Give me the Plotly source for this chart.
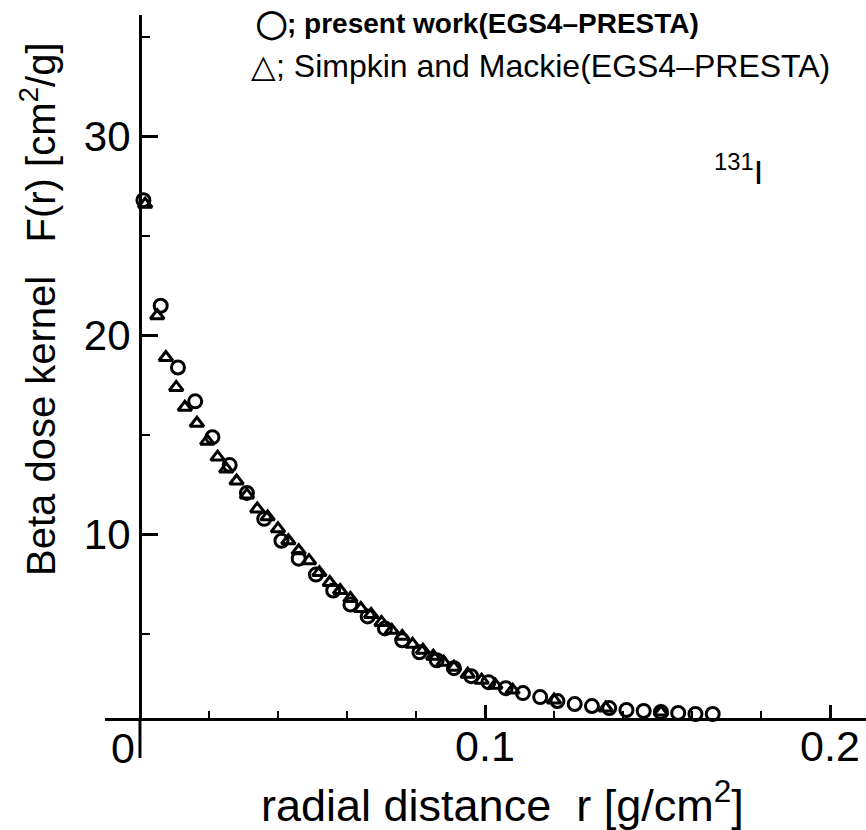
import plotly.graph_objects as go

# ---- data ----
r_present = [0.001, 0.006, 0.011, 0.016, 0.021, 0.026, 0.031, 0.036, 0.041, 0.046,
             0.051, 0.056, 0.061, 0.066, 0.071, 0.076, 0.081, 0.086, 0.091, 0.096,
             0.101, 0.106, 0.111, 0.116, 0.121, 0.126, 0.131, 0.136, 0.141, 0.146,
             0.151, 0.156, 0.161, 0.166]
F_present = [26.8, 21.5, 18.4, 16.7, 14.9, 13.5, 12.1, 10.8, 9.7, 8.8,
             8.0, 7.2, 6.5, 5.9, 5.3, 4.7, 4.1, 3.7, 3.3, 2.9,
             2.6, 2.3, 2.05, 1.85, 1.65, 1.5, 1.4, 1.3, 1.2, 1.15,
             1.1, 1.05, 1.0, 1.0]

r_simpkin = [0.0015, 0.005, 0.0075, 0.0105, 0.013, 0.0165, 0.0195, 0.0225, 0.025, 0.028,
             0.031, 0.034, 0.037, 0.040, 0.043, 0.046, 0.049, 0.052, 0.055, 0.058,
             0.061, 0.064, 0.067, 0.070, 0.073, 0.076, 0.079, 0.082, 0.085, 0.088,
             0.091, 0.095, 0.099, 0.103, 0.108, 0.120, 0.135, 0.151]
F_simpkin = [26.6, 21.0, 18.9, 17.4, 16.4, 15.6, 14.7, 13.9, 13.3, 12.7,
             12.0, 11.3, 10.9, 10.3, 9.7, 9.2, 8.7, 8.1, 7.6, 7.2,
             6.8, 6.3, 6.0, 5.6, 5.2, 4.9, 4.5, 4.2, 3.9, 3.6,
             3.35, 3.0, 2.7, 2.45, 2.2, 1.7, 1.3, 1.1]

x_tick_vals = [0.1, 0.2]
x_tick_text = ["0.1", "0.2"]
y_tick_vals = [10, 20, 30]
y_tick_text = ["10", "20", "30"]

legend_present = "<b>◯; present work(EGS4–PRESTA)</b>"
legend_simpkin = "△; Simpkin and Mackie(EGS4–PRESTA)"
nuclide = "<sup>131</sup>I"
x_title = "radial distance  r [g/cm<sup>2</sup>]"
y_title = "Beta dose kernel   F(r) [cm<sup>2</sup>/g]"

# ---- layout constants ----
W, H = 866, 830
ML, MR, MT, MB = 105, 0, 15, 112
X0, X1 = -0.01014, 0.21043
Y0, Y1 = 0.8, 36.1
FONT = "Liberation Sans, Arial, Helvetica, sans-serif"

fig = go.Figure()
fig.add_trace(go.Scatter(
    x=r_present, y=F_present, mode="markers",
    marker=dict(symbol="circle-open", size=13, color="black", line=dict(width=3, color="black")),
    cliponaxis=False, showlegend=False))
fig.add_trace(go.Scatter(
    x=r_simpkin, y=F_simpkin, mode="markers",
    marker=dict(symbol="triangle-up-open", size=12, color="black", line=dict(width=3, color="black")),
    cliponaxis=False, showlegend=False))

yaxis_pos = (0 - X0) / (X1 - X0)

fig.update_layout(
    width=W, height=H,
    margin=dict(l=ML, r=MR, t=MT, b=MB, pad=0),
    paper_bgcolor="white", plot_bgcolor="white",
    font=dict(family=FONT, color="black"),
    xaxis=dict(range=[X0, X1], showgrid=False, zeroline=False,
               showline=True, linecolor="black", linewidth=3,
               tickmode="array", tickvals=x_tick_vals, ticktext=x_tick_text,
               ticks="inside", ticklen=13, tickwidth=2.5, tickcolor="black",
               tickfont=dict(size=43, family=FONT), ticklabelstandoff=-12,
               minor=dict(dtick=0.02, tick0=0, ticks="inside", ticklen=7, tickwidth=2, tickcolor="black"),
               fixedrange=True),
    yaxis=dict(range=[Y0, Y1], showgrid=False, zeroline=False,
               anchor="free", position=yaxis_pos,
               showline=True, linecolor="black", linewidth=3,
               tickmode="array", tickvals=y_tick_vals, ticktext=y_tick_text,
               ticks="inside", ticklen=16, tickwidth=2.5, tickcolor="black",
               tickfont=dict(size=42, family=FONT),
               minor=dict(dtick=5, tick0=0, ticks="inside", ticklen=8, tickwidth=2, tickcolor="black"),
               fixedrange=True),
)

# y axis line extension below x axis
fig.add_shape(type="line", xref="x", yref="paper", x0=0, x1=0, y0=0, y1=-40 / (H - MT - MB),
              line=dict(color="black", width=3))

annos = [
    dict(text="0", x=0, xref="x", xanchor="right", xshift=-3, y=0, yref="paper", yanchor="top", yshift=-4,
         font=dict(size=43)),
    dict(text=x_title, x=502, y=802, font=dict(size=45)),
    dict(text=y_title, x=38, y=309, textangle=-90, font=dict(size=40)),
    dict(text=legend_present, x=477, y=24, font=dict(size=28)),
    dict(text=legend_simpkin, x=540, y=66, font=dict(size=32)),
    dict(text=nuclide, x=738, y=170, font=dict(size=34)),
]
for a in annos:
    a = dict(a)
    if a.get("xref") != "x":
        a["xref"] = "paper"
        a["x"] = (a["x"] - ML) / (W - ML - MR)
        a.setdefault("xanchor", "center")
    if not (a.get("yref") == "paper" and a["text"] == "0"):
        a["yref"] = "paper"
        a["y"] = (H - MB - a["y"]) / (H - MT - MB)
        a.setdefault("yanchor", "middle")
    a["showarrow"] = False
    fig.add_annotation(**a)

fig.write_html("out.html")
